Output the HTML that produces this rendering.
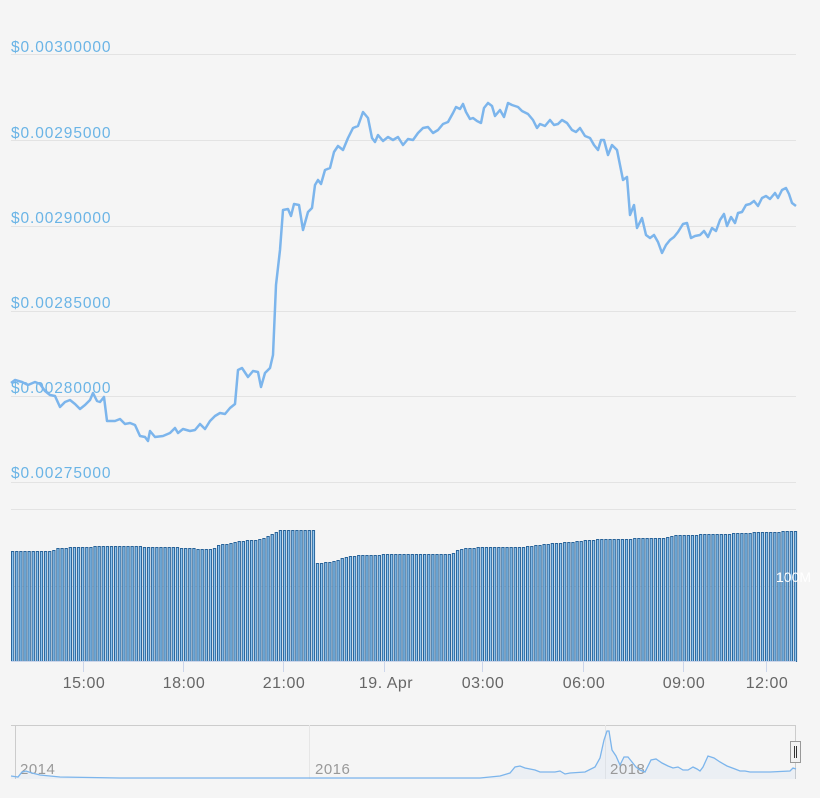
<!DOCTYPE html>
<html><head><meta charset="utf-8"><style>
html,body{margin:0;padding:0;background:#f5f5f5;}
svg{display:block;font-family:"Liberation Sans","DejaVu Sans",sans-serif;}
</style></head><body>
<svg id="s" width="820" height="798" xmlns="http://www.w3.org/2000/svg">
<rect width="820" height="798" fill="#f5f5f5"/>
<g stroke="#e3e3e3" stroke-width="1">
<line x1="11" x2="796" y1="54.5" y2="54.5"/>
<line x1="11" x2="796" y1="140.5" y2="140.5"/>
<line x1="11" x2="796" y1="226.5" y2="226.5"/>
<line x1="11" x2="796" y1="311.5" y2="311.5"/>
<line x1="11" x2="796" y1="396.5" y2="396.5"/>
<line x1="11" x2="796" y1="482.5" y2="482.5"/>
<line x1="11" x2="796" y1="509.5" y2="509.5"/>
<line x1="11" x2="796" y1="586.5" y2="586.5"/>
</g>
<g fill="#6ab4e6" font-size="15.5" letter-spacing="0.9">
<text x="11" y="52">$0.00300000</text>
<text x="11" y="138">$0.00295000</text>
<text x="11" y="223">$0.00290000</text>
<text x="11" y="308">$0.00285000</text>
<text x="11" y="393">$0.00280000</text>
<text x="11" y="478">$0.00275000</text>
</g>
<g id="bars"></g>
<text x="776" y="582" fill="#ffffff" font-size="14">100M</text>
<line x1="11" x2="796" y1="661.5" y2="661.5" stroke="#ccd6eb"/>
<g stroke="#ccd6eb"><line x1="83.5" x2="83.5" y1="662" y2="672"/><line x1="183.5" x2="183.5" y1="662" y2="672"/><line x1="283.5" x2="283.5" y1="662" y2="672"/><line x1="384.5" x2="384.5" y1="662" y2="672"/><line x1="482.5" x2="482.5" y1="662" y2="672"/><line x1="583.5" x2="583.5" y1="662" y2="672"/><line x1="683.5" x2="683.5" y1="662" y2="672"/><line x1="766.5" x2="766.5" y1="662" y2="672"/></g>
<g fill="#666" font-size="16" text-anchor="middle" letter-spacing="0.5">
<text x="84" y="688">15:00</text><text x="184" y="688">18:00</text><text x="284" y="688">21:00</text><text x="386" y="688">19. Apr</text><text x="483" y="688">03:00</text><text x="584" y="688">06:00</text><text x="684" y="688">09:00</text><text x="767" y="688">12:00</text>
</g>
<polyline fill="none" stroke="#7cb5ec" stroke-width="2.5" stroke-linejoin="round" points="11,383 15,380 22,382 28,385 35,382 40,384 45,391 50,395 55,396 60,407 65,402 70,400 75,404 80,409 85,405 90,400 93,393 97,401 100,402 104,397 107,421 115,421 120,419 125,424 130,423 135,425 140,436 145,437 148,441 150,431 155,437 163,436 170,433 175,428 178,433 183,429 190,431 195,430 200,424 205,429 210,421 215,416 220,413 225,414 230,408 235,404 238,370 242,368 248,377 253,371 258,372 261,387 265,373 270,368 273,355 276,285 280,250 283,210 288,209 291,216 294,204 299,205 303,230 308,212 312,208 315,185 318,180 321,184 325,170 330,168 334,152 338,146 343,150 348,138 353,128 358,126 363,112 368,118 372,138 375,142 378,135 383,141 388,137 393,140 398,137 403,145 408,139 413,140 418,133 423,128 428,127 433,133 438,130 443,124 448,122 453,113 456,107 460,109 463,104 466,112 470,119 473,118 477,121 481,123 484,108 488,103 492,106 495,116 500,110 504,117 508,103 512,105 518,107 522,111 528,114 533,120 537,128 540,124 545,126 550,120 554,125 558,124 562,120 567,123 572,130 576,132 580,128 585,136 590,138 594,145 598,150 601,140 604,140 608,155 612,145 617,150 620,165 623,180 627,177 630,215 634,205 637,228 642,218 646,235 650,238 654,235 658,242 662,253 666,245 670,240 674,237 678,232 683,224 687,223 691,238 695,236 700,235 704,231 708,237 712,228 716,231 720,220 724,214 727,226 731,217 735,223 738,213 742,212 746,205 750,204 754,201 758,206 762,198 766,196 770,199 775,193 778,198 782,190 786,188 789,194 792,203 796,206"/>
<line x1="11" x2="796" y1="725.5" y2="725.5" stroke="#cccccc"/>
<line x1="15.5" x2="15.5" y1="725" y2="779" stroke="#cccccc"/>
<line x1="795.5" x2="795.5" y1="725" y2="779" stroke="#cccccc"/>
<g stroke="#e6e6e6"><line x1="309.5" x2="309.5" y1="725" y2="779"/><line x1="605.5" x2="605.5" y1="725" y2="779"/></g>
<polygon fill="#7cb5ec" fill-opacity="0.08" points="11,779 11,776 18,777 22,772 26,771 32,773 40,775 60,777 120,778 300,778 480,778 500,776 510,773 515,767 520,766 525,768 535,770 540,772 555,772 560,771 565,774 570,773 585,772 595,767 600,758 604,740 607,731 609,731 612,750 616,756 620,765 624,757 628,757 632,762 636,767 640,770 645,772 651,760 656,759 662,763 668,766 673,768 678,767 683,770 688,770 693,767 697,769 700,771 703,767 708,756 714,758 720,762 727,766 735,769 740,771 745,771 750,772 770,772 790,771 793,768 796,769 796,779"/>
<g fill="#999" font-size="15" letter-spacing="0.5"><text x="20" y="774">2014</text><text x="315" y="774">2016</text><text x="610" y="774">2018</text></g>
<polyline fill="none" stroke="#7cb5ec" stroke-width="1.3" points="11,776 18,777 22,772 26,771 32,773 40,775 60,777 120,778 300,778 480,778 500,776 510,773 515,767 520,766 525,768 535,770 540,772 555,772 560,771 565,774 570,773 585,772 595,767 600,758 604,740 607,731 609,731 612,750 616,756 620,765 624,757 628,757 632,762 636,767 640,770 645,772 651,760 656,759 662,763 668,766 673,768 678,767 683,770 688,770 693,767 697,769 700,771 703,767 708,756 714,758 720,762 727,766 735,769 740,771 745,771 750,772 770,772 790,771 793,768 796,769"/>
<rect x="790.5" y="741.5" width="10" height="21" fill="#f2f2f2" stroke="#999"/>
<g stroke="#333"><line x1="794.5" x2="794.5" y1="746" y2="758"/><line x1="796.5" x2="796.5" y1="746" y2="758"/></g>
</svg>
<script>
(function(){
var g=document.getElementById('bars');
var pts=[[11,551],[50,551],[55,548],[105,546],[175,547],[180,548],[210,549],[218,545],[240,541],[260,539],[272,533],[280,530],[312,530],[313,563],[330,562],[345,557],[360,555],[400,554],[450,554],[458,549],[480,547],[520,547],[545,544],[600,539],[660,538],[675,535],[720,534],[760,532],[796,531]];
function top(x){for(var i=1;i<pts.length;i++){if(x<=pts[i][0]){var a=pts[i-1],b=pts[i];return a[1]+(b[1]-a[1])*(x-a[0])/(b[0]-a[0]);}}return 531;}
var h='';
for(var x=11;x<794;x+=4.12){var t=Math.round(top(x));
h+='<rect x="'+(x+0.5).toFixed(2)+'" y="'+(t+0.5)+'" width="2.3" height="'+(661-t)+'" fill="#8cc4f0" stroke="#2a6499" stroke-width="1"/>';}
g.innerHTML=h;
})();
</script>
</body></html>
